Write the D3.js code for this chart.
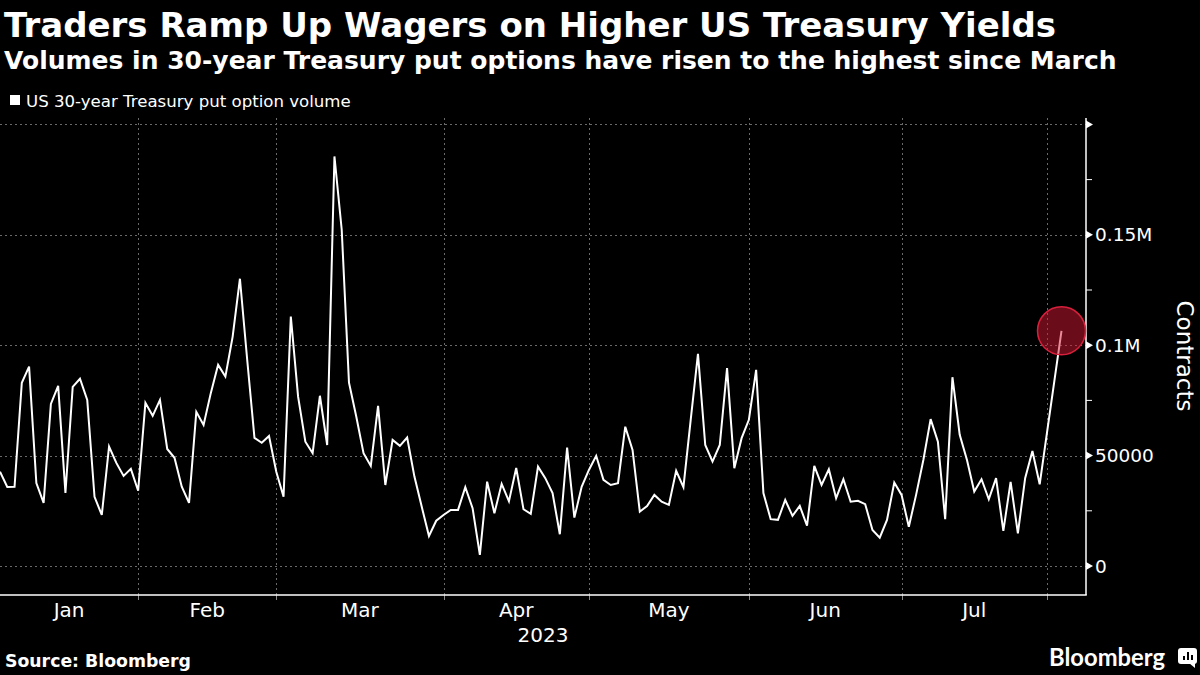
<!DOCTYPE html>
<html>
<head>
<meta charset="utf-8">
<script src="https://cdn.jsdelivr.net/npm/d3@7"></script>
<style>
  html, body { margin: 0; padding: 0; background: #000; }
  svg { display: block; }
  text { font-family: "DejaVu Sans", sans-serif; fill: #fff; }
</style>
</head>
<body>
<svg id="chart" width="1200" height="675"></svg>
<script>
// Daily put option volume (contracts), one array per month of trading days

const months = ["Jan", "Feb", "Mar", "Apr", "May", "Jun", "Jul", "Aug"];

const janVol = [42700, 35800, 35900, 83000, 90300, 37600, 28600, 73400, 81600, 33100,
    81100, 84800, 75200, 31300, 23100, 54100, 46700, 40800, 44000];
const febVol = [34100, 73900, 68000, 75200, 53000, 49000, 35900, 28600, 69800, 63900,
    78400, 91100, 85800, 103900, 130100, 93400, 58000, 55800, 58900];
const marVol = [42700, 31400, 113000, 76700, 56300, 51100, 77100, 54800, 185500, 152300,
    83000, 67700, 51100, 45300, 72500, 36700, 57100, 54400, 58200, 40500,
    26900, 13600, 20500];
const aprVol = [23100, 25400, 25400, 35700, 26200, 5000, 38200, 23900, 37200, 29300,
    44400, 25700, 23600, 45000, 39800, 33000, 14400, 53600, 21900, 35900];
const mayVol = [43500, 49900, 39000, 36700, 37500, 63100, 52600, 24600, 27200, 32200,
    29100, 27700, 43100, 35700, 66200, 96100, 54800, 47300, 54800, 89600,
    44300, 57900];
const junVol = [66200, 88800, 33000, 21200, 20900, 29900, 22700, 27200, 18300, 45300,
    36700, 43800, 30700, 39300, 29100, 29500, 28000, 16300, 12800, 20900,
    37800];
const julVol = [32200, 17800, 32200, 48000, 66500, 56300, 21200, 85500, 59400, 48000,
    33700, 39300, 30200, 39800, 15900, 38100, 14800, 39800, 52100, 37000];
const augVol = [60300, 83400, 106500];

const yTicks = [0, 50000, 100000, 150000, 200000];
const yTickLabels = ["0", "50000", "0.1M", "0.15M", ""];
const yMinorTicks = [25000, 75000, 125000, 175000];

// Flatten into one series, keep where each month starts

const monthly = [janVol, febVol, marVol, aprVol, mayVol, junVol, julVol, augVol];
const series = [];
const monthStart = [];
monthly.forEach(vals => {
    monthStart.push(series.length);
    vals.forEach(v => series.push({ i: series.length, v: v }));
});
monthStart.push(series.length);

const svg = d3.select("#chart");

const box = { left: 0, right: 1086, top: 118, bottom: 595 };

const x = d3.scaleLinear()
    .domain([0, series.length - 1])
    .range([box.left, 1061.5]);

const y = d3.scaleLinear()
    .domain([0, 200000])
    .range([566, 124.4]);

// Titles

svg.append("text")
    .attr("x", 4).attr("y", 37)
    .style("font-size", "34px").style("font-weight", "bold")
    .text("Traders Ramp Up Wagers on Higher US Treasury Yields");

svg.append("text")
    .attr("x", 4).attr("y", 69)
    .style("font-size", "25px").style("font-weight", "bold")
    .text("Volumes in 30-year Treasury put options have risen to the highest since March");

// Legend

svg.append("rect")
    .attr("x", 10).attr("y", 95)
    .attr("width", 10).attr("height", 10)
    .attr("fill", "#fff");

svg.append("text")
    .attr("x", 26).attr("y", 107)
    .style("font-size", "16.6px")
    .text("US 30-year Treasury put option volume");

// Grid

const grid = svg.append("g")
    .attr("stroke", "#6a6a6a")
    .attr("stroke-width", 1)
    .attr("stroke-dasharray", "2,3");

grid.selectAll(".hgrid")
    .data(yTicks)
    .join("line")
    .attr("x1", box.left).attr("x2", box.right)
    .attr("y1", d => Math.round(y(d)) + 0.5)
    .attr("y2", d => Math.round(y(d)) + 0.5);

const gridMonths = monthStart.slice(1, months.length);

grid.selectAll(".vgrid")
    .data(gridMonths)
    .join("line")
    .attr("x1", d => Math.round(x(d)) + 0.5)
    .attr("x2", d => Math.round(x(d)) + 0.5)
    .attr("y1", box.top).attr("y2", box.bottom);

svg.append("g")
    .attr("stroke", "#8a8a8a")
    .selectAll("line")
    .data(gridMonths)
    .join("line")
    .attr("x1", d => Math.round(x(d)) + 0.5)
    .attr("x2", d => Math.round(x(d)) + 0.5)
    .attr("y1", box.bottom).attr("y2", box.bottom + 5);

// Axes

svg.append("line")
    .attr("x1", box.left).attr("x2", box.right + 0.75)
    .attr("y1", box.bottom).attr("y2", box.bottom)
    .attr("stroke", "#fff").attr("stroke-width", 1.5);

svg.append("line")
    .attr("x1", box.right).attr("x2", box.right)
    .attr("y1", box.top).attr("y2", box.bottom)
    .attr("stroke", "#fff").attr("stroke-width", 1.5);

svg.append("g")
    .selectAll("path")
    .data(yTicks)
    .join("path")
    .attr("d", d => `M${box.right},${y(d) - 4}L${box.right + 7},${y(d)}L${box.right},${y(d) + 4}Z`)
    .attr("fill", "#fff");

svg.append("g")
    .attr("stroke", "#fff")
    .selectAll("line")
    .data(yMinorTicks)
    .join("line")
    .attr("x1", box.right).attr("x2", box.right + 6)
    .attr("y1", d => y(d)).attr("y2", d => y(d));

svg.append("g")
    .selectAll("text")
    .data(yTicks)
    .join("text")
    .attr("x", box.right + 9)
    .attr("y", d => y(d))
    .attr("dy", "0.36em")
    .style("font-size", "18.5px")
    .text((d, i) => yTickLabels[i]);

svg.append("text")
    .attr("transform", `translate(1185, 356) rotate(90)`)
    .attr("text-anchor", "middle")
    .attr("dominant-baseline", "central")
    .style("font-size", "23px")
    .text("Contracts");

svg.append("g")
    .selectAll("text")
    .data(months.slice(0, 7))
    .join("text")
    .attr("x", (d, i) => x((monthStart[i] + monthStart[i + 1]) / 2))
    .attr("y", 617)
    .attr("text-anchor", "middle")
    .style("font-size", "20px")
    .text(d => d);

svg.append("text")
    .attr("x", (box.left + box.right) / 2)
    .attr("y", 642)
    .attr("text-anchor", "middle")
    .style("font-size", "20px")
    .text("2023");

// Series

const line = d3.line()
    .x(d => x(d.i))
    .y(d => y(d.v));

svg.append("path")
    .datum(series)
    .attr("d", line)
    .attr("fill", "none")
    .attr("stroke", "#fff")
    .attr("stroke-width", 2);

const last = series[series.length - 1];

svg.append("circle")
    .attr("cx", x(last.i))
    .attr("cy", y(last.v))
    .attr("r", 24)
    .attr("fill", "rgba(212, 24, 52, 0.5)")
    .attr("stroke", "#d8203c")
    .attr("stroke-width", 1.5);

// Footer

svg.append("text")
    .attr("x", 5).attr("y", 667)
    .style("font-size", "17.3px").style("font-weight", "bold")
    .text("Source: Bloomberg");

svg.append("text")
    .attr("x", 1049).attr("y", 666)
    .attr("textLength", 116)
    .attr("lengthAdjust", "spacingAndGlyphs")
    .style("font-family", "Lato, sans-serif")
    .style("font-size", "25px").style("font-weight", "bold")
    .text("Bloomberg");

const logo = svg.append("g").attr("transform", "translate(1178, 648)");

logo.append("rect")
    .attr("width", 19).attr("height", 16).attr("rx", 3)
    .attr("fill", "#fff");

logo.append("path")
    .attr("d", "M11,15L17,15L17,20Z")
    .attr("fill", "#fff");

logo.selectAll(".bar")
    .data([[5, 8], [9, 4], [13, 7]])
    .join("rect")
    .attr("x", d => d[0]).attr("y", d => d[1])
    .attr("width", 2).attr("height", d => 12 - d[1])
    .attr("fill", "#000");
</script>
</body>
</html>
